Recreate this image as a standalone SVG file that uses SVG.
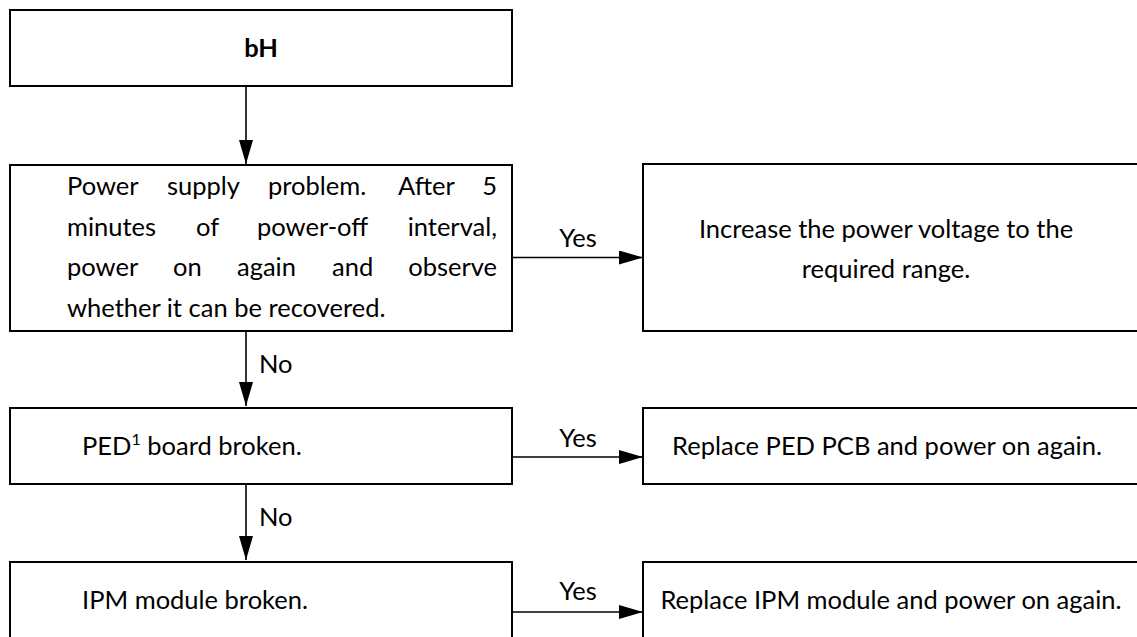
<svg xmlns="http://www.w3.org/2000/svg" width="1137" height="637" viewBox="0 0 1137 637">
  <defs>
    <style>
      .box { fill: #ffffff; stroke: #000000; stroke-width: 2; }
      .t { font-family: Lato, "Liberation Sans", sans-serif; font-size: 25.5px; fill: #000000; }
      .b { font-weight: bold; }
      .c { text-anchor: middle; }
      .e { text-anchor: end; }
      .line { stroke: #000000; stroke-width: 1.6; fill: none; }
    </style>
    <marker id="arrow" viewBox="0 0 24 14" refX="24" refY="7" markerWidth="24" markerHeight="14" markerUnits="userSpaceOnUse" orient="auto">
      <path d="M0,0 L24,7 L0,14 Z" fill="#000000"/>
    </marker>
  </defs>
  <rect width="1137" height="637" fill="#ffffff"/>

  <g id="connectors">
    <line class="line" x1="246" y1="86" x2="246" y2="164" marker-end="url(#arrow)"/>
    <line class="line" x1="512" y1="257.5" x2="643" y2="257.5" marker-end="url(#arrow)"/>
    <text class="t c" x="578" y="247">Yes</text>
    <line class="line" x1="246" y1="331" x2="246" y2="406" marker-end="url(#arrow)"/>
    <text class="t" x="259" y="373">No</text>
    <line class="line" x1="512" y1="457" x2="643" y2="457" marker-end="url(#arrow)"/>
    <text class="t c" x="578" y="447">Yes</text>
    <line class="line" x1="246" y1="484" x2="246" y2="560" marker-end="url(#arrow)"/>
    <text class="t" x="259" y="526">No</text>
    <line class="line" x1="512" y1="612" x2="643" y2="612" marker-end="url(#arrow)"/>
    <text class="t c" x="578" y="600">Yes</text>
  </g>

  <g id="node-bh">
    <rect class="box" x="10" y="10" width="502" height="76"/>
    <text class="t b c" x="261" y="57">bH</text>
  </g>

  <g id="node-power">
    <rect class="box" x="10" y="165" width="502" height="166"/>
    <text class="t" y="195"><tspan x="67">Power</tspan><tspan x="167">supply</tspan><tspan x="268">problem.</tspan><tspan x="398">After</tspan></text>
    <text class="t e" x="497" y="195">5</text>
    <text class="t" y="236"><tspan x="67">minutes</tspan><tspan x="196">of</tspan><tspan x="257">power-off</tspan></text>
    <text class="t e" x="497" y="236">interval,</text>
    <text class="t" y="276"><tspan x="67">power</tspan><tspan x="173">on</tspan><tspan x="237">again</tspan><tspan x="332">and</tspan></text>
    <text class="t e" x="497" y="276">observe</text>
    <text class="t" x="67" y="317">whether it can be recovered.</text>
  </g>

  <g id="node-increase">
    <rect class="box" x="643" y="164" width="500" height="167"/>
    <text class="t c" x="886" y="238">Increase the power voltage to the</text>
    <text class="t c" x="886" y="278">required range.</text>
  </g>

  <g id="node-ped">
    <rect class="box" x="10" y="408" width="502" height="76"/>
    <text class="t" x="82" y="455">PED<tspan font-size="16" dy="-10">1</tspan><tspan dy="10"> board broken.</tspan></text>
  </g>

  <g id="node-replace-ped">
    <rect class="box" x="643" y="408" width="500" height="76"/>
    <text class="t c" x="887" y="455">Replace PED PCB and power on again.</text>
  </g>

  <g id="node-ipm">
    <rect class="box" x="10" y="562" width="502" height="90"/>
    <text class="t" x="82" y="609">IPM module broken.</text>
  </g>

  <g id="node-replace-ipm">
    <rect class="box" x="643" y="562" width="500" height="90"/>
    <text class="t c" x="891" y="609">Replace IPM module and power on again.</text>
  </g>
</svg>
